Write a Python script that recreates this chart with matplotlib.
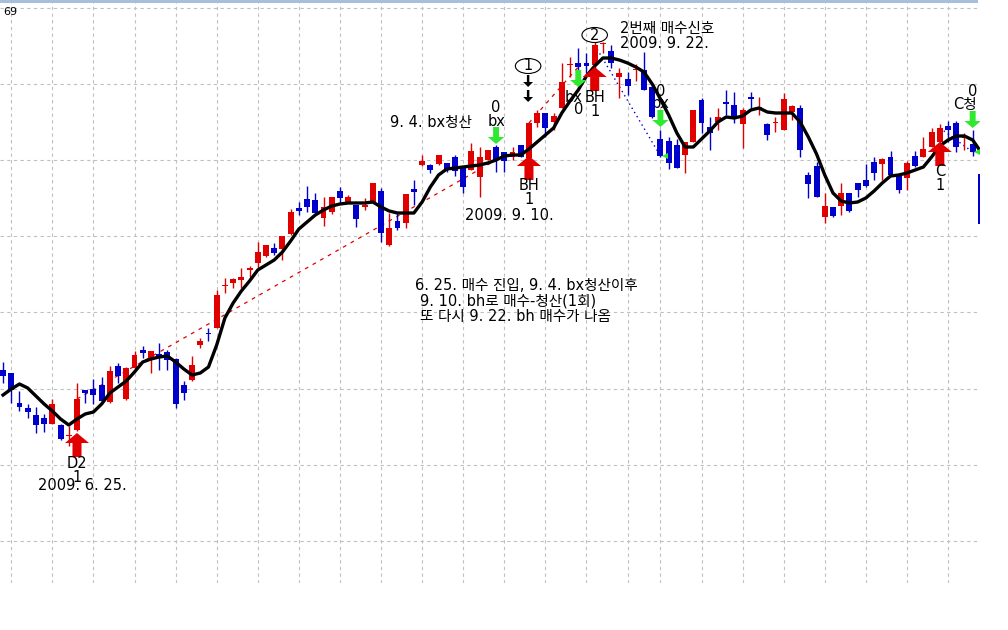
import numpy as np
import pandas as pd
import matplotlib
matplotlib.use('Agg')
import matplotlib.pyplot as plt
from matplotlib.patches import Polygon, Ellipse, Rectangle

plt.rcParams['font.family'] = ['DejaVu Sans', 'Noto Sans CJK KR']

# Trading days (2009-10-02 Chuseok holiday removed)
dates = pd.bdate_range('2009-06-12', '2009-11-27').drop(pd.Timestamp('2009-10-02'))

opens = [1630, 1627, 1597, 1592, 1585, 1582, 1576, 1575, 1564, 1570,
         1610, 1611, 1615, 1598, 1634, 1601, 1632, 1650, 1641, 1646,
         1648, 1641, 1615, 1620, 1655, 1667, 1672, 1714, 1717, 1720,
         1730, 1737, 1744, 1752, 1751, 1766, 1792, 1801, 1800, 1782,
         1788, 1809, 1798, 1795, 1793, 1798, 1809, 1755, 1779, 1777,
         1811, 1835, 1835, 1836, 1837, 1843, 1832, 1830, 1823, 1840,
         1853, 1848, 1843, 1855, 1842, 1877, 1887, 1878, 1892, 1935,
         1937, 1937, 1935, 1956, 1949, 1923, 1921, 1930, 1930, 1913,
         1861, 1859, 1855, 1845, 1858, 1900, 1873, 1878, 1898, 1895,
         1876, 1903, 1891, 1876, 1877, 1870, 1888, 1892, 1825, 1834,
         1783, 1793, 1794, 1807, 1817, 1820, 1838, 1836, 1843, 1824,
         1822, 1844, 1843, 1853, 1858, 1874, 1877, 1862, 1856, 1826]
highs = [1638, 1627, 1609, 1596, 1593, 1586, 1601, 1576, 1574, 1617,
         1610, 1621, 1623, 1634, 1637, 1633, 1649, 1654, 1649, 1657,
         1650, 1642, 1619, 1644, 1662, 1672, 1710, 1722, 1722, 1732,
         1734, 1758, 1755, 1757, 1764, 1791, 1798, 1814, 1807, 1803,
         1803, 1813, 1805, 1795, 1802, 1817, 1812, 1787, 1788, 1806,
         1820, 1845, 1836, 1845, 1837, 1845, 1832, 1857, 1853, 1850,
         1855, 1848, 1853, 1855, 1878, 1890, 1887, 1887, 1937, 1943,
         1952, 1947, 1958, 1958, 1955, 1932, 1928, 1936, 1948, 1914,
         1870, 1863, 1861, 1858, 1890, 1902, 1883, 1892, 1910, 1908,
         1892, 1908, 1903, 1877, 1883, 1907, 1895, 1895, 1828, 1838,
         1807, 1793, 1817, 1807, 1817, 1836, 1843, 1842, 1849, 1824,
         1839, 1849, 1863, 1872, 1876, 1879, 1879, 1867, 1870, 1830]
lows = [1617, 1597, 1589, 1582, 1567, 1568, 1576, 1560, 1554, 1569,
        1597, 1596, 1598, 1597, 1617, 1600, 1631, 1642, 1627, 1630,
        1630, 1592, 1600, 1619, 1652, 1659, 1672, 1707, 1712, 1712,
        1723, 1732, 1743, 1745, 1740, 1765, 1785, 1788, 1787, 1774,
        1786, 1797, 1797, 1773, 1790, 1798, 1758, 1754, 1770, 1772,
        1795, 1834, 1827, 1835, 1828, 1824, 1807, 1830, 1803, 1840,
        1828, 1828, 1840, 1843, 1840, 1873, 1863, 1870, 1892, 1923,
        1915, 1927, 1930, 1947, 1932, 1902, 1905, 1919, 1910, 1882,
        1843, 1831, 1832, 1827, 1858, 1867, 1850, 1870, 1885, 1877,
        1852, 1892, 1885, 1860, 1868, 1870, 1880, 1843, 1802, 1803,
        1777, 1783, 1785, 1788, 1803, 1813, 1820, 1820, 1825, 1807,
        1810, 1833, 1843, 1853, 1857, 1858, 1848, 1850, 1844, 1776]
closes = [1624, 1610, 1593, 1588, 1575, 1576, 1596, 1561, 1565, 1601,
          1607, 1605, 1599, 1629, 1624, 1632, 1645, 1647, 1649, 1642,
          1640, 1596, 1607, 1635, 1659, 1666, 1705, 1715, 1721, 1723,
          1732, 1748, 1755, 1747, 1764, 1788, 1789, 1793, 1787, 1793,
          1803, 1802, 1803, 1781, 1795, 1817, 1767, 1772, 1772, 1806,
          1808, 1839, 1830, 1845, 1830, 1829, 1813, 1849, 1843, 1850,
          1840, 1839, 1848, 1843, 1877, 1887, 1872, 1884, 1918, 1936,
          1933, 1934, 1955, 1957, 1937, 1927, 1914, 1931, 1910, 1883,
          1844, 1837, 1832, 1858, 1890, 1877, 1867, 1883, 1896, 1883,
          1890, 1901, 1893, 1865, 1878, 1901, 1894, 1850, 1816, 1803,
          1794, 1784, 1807, 1789, 1810, 1814, 1827, 1841, 1825, 1810,
          1837, 1834, 1851, 1868, 1872, 1870, 1853, 1863, 1848, 1776]
# smoothed moving average (black line)
ma_line = [1605, 1611, 1616, 1612, 1604, 1596, 1589, 1581, 1575, 1581,
           1586, 1588, 1596, 1607, 1613, 1619, 1628, 1638, 1641, 1643,
           1644, 1638, 1631, 1625, 1627, 1633, 1655, 1682, 1697, 1709,
           1719, 1730, 1735, 1740, 1748, 1759, 1771, 1778, 1785, 1790,
           1794, 1796, 1797, 1797, 1797, 1798, 1793, 1789, 1787, 1787,
           1787, 1798, 1813, 1825, 1831, 1832, 1833, 1834, 1835, 1837,
           1840, 1844, 1845, 1845, 1851, 1858, 1865, 1872, 1887, 1899,
           1910, 1924, 1934, 1942, 1942, 1940, 1937, 1933, 1928, 1916,
           1901, 1885, 1867, 1853, 1853, 1861, 1869, 1878, 1883, 1882,
           1884, 1890, 1892, 1888, 1887, 1887, 1887, 1878, 1863, 1846,
           1825, 1807, 1799, 1797, 1798, 1802, 1809, 1817, 1824, 1825,
           1827, 1830, 1833, 1843, 1854, 1860, 1864, 1864, 1860, 1848]

# buy signals (red up arrows) and exit signals (green down arrows)
buy_dates = ['2009-06-25', '2009-09-10', '2009-09-22', '2009-11-20']
buy_names = ['D2', 'BH', 'BH', 'C']
buy_counts = ['1', '1', '1', '1']
buy_levels = [1567, 1844, 1933, 1858]
sell_dates = ['2009-09-04', '2009-09-18', '2009-10-05', '2009-11-26']
sell_names = ['bx', 'bx', 'bx', 'C청']
sell_counts = ['0', '0', '0', '0']
sell_levels = [1856, 1913, 1873, 1872]

# trades: entry -> exit
trade_entries = ['2009-06-25', '2009-09-10', '2009-09-22', '2009-11-20']
trade_exits = ['2009-09-04', '2009-09-18', '2009-10-05', '2009-11-26']

RED = '#e00000'
BLUE = '#0000cc'
GREEN = '#2fe82f'


def pos(d):
    return dates.get_loc(pd.Timestamp(d))


def up_arrow(ax, k, tip, color, hw=1.46, sw=0.55, hh=10, th=24):
    pts = [(k, tip), (k + hw, tip - hh), (k + sw, tip - hh), (k + sw, tip - th),
           (k - sw, tip - th), (k - sw, tip - hh), (k - hw, tip - hh)]
    ax.add_patch(Polygon(pts, closed=True, color=color, lw=0, zorder=5))


def down_arrow(ax, k, tip, color, hw=1.0, sw=0.36, hh=7, th=17):
    pts = [(k, tip), (k + hw, tip + hh), (k + sw, tip + hh), (k + sw, tip + th),
           (k - sw, tip + th), (k - sw, tip + hh), (k - hw, tip + hh)]
    ax.add_patch(Polygon(pts, closed=True, color=color, lw=0, zorder=5))


fig = plt.figure(figsize=(10.08, 6.30), dpi=100)
ax = fig.add_axes([0, 47 / 630, 979.5 / 1008, 583 / 630])
ax.set_xlim(-0.37, 118.83)
ax.set_ylim(1417, 2000)

# weekly grid (first trading day of each week)
week_starts = [i for i in range(1, len(dates)) if dates[i].weekday() < dates[i - 1].weekday()]
ax.set_xticks(week_starts)
ax.set_yticks(np.arange(1459, 2000, 76.2))
ax.grid(True, color='#c0c0c0', linestyle=(0, (3, 3)), linewidth=0.8, zorder=0)
ax.tick_params(length=0, labelbottom=False, labelleft=False)
for s in ax.spines.values():
    s.set_visible(False)

# candles
o = np.array(opens)
c = np.array(closes)
x = np.arange(len(dates))
colors = np.where(c >= o, RED, BLUE)
ax.vlines(x, lows, highs, colors=colors, linewidth=1, zorder=3)
ax.bar(x, np.maximum(np.abs(c - o), 1), bottom=np.minimum(o, c), width=0.72,
       color=colors, linewidth=0, zorder=3)

# moving average
ax.plot(x, ma_line, color='black', lw=2.4, zorder=4, solid_joinstyle='round')

# trade lines: red when profitable, blue dotted when losing
for e, q in zip(trade_entries, trade_exits):
    i, j = pos(e), pos(q)
    if c[j] > c[i]:
        ax.plot([i, j], [c[i], c[j]], color=RED, lw=0.9, ls=(0, (3, 4)), zorder=2)
    else:
        ax.plot([i, j], [c[i], c[j]], color=BLUE, lw=1, ls=(0, (1, 2.5)), zorder=2)
        ax.plot(j + 0.55, c[j], marker='<', ms=4, color=GREEN, mew=0, zorder=5)

# buy signals
for d, name, cnt, lv in zip(buy_dates, buy_names, buy_counts, buy_levels):
    k = pos(d)
    up_arrow(ax, k, lv, RED)
    ax.text(k, lv - 30, name, ha='center', va='center', fontsize=10.5, zorder=6)
    ax.text(k, lv - 44, cnt, ha='center', va='center', fontsize=10.5, zorder=6)

# exit signals
for d, name, cnt, lv in zip(sell_dates, sell_names, sell_counts, sell_levels):
    k = pos(d)
    down_arrow(ax, k, lv, GREEN)
    if d == '2009-09-18':
        # labels pushed under the arrow next to the 9.22 signal
        ax.text(k - 0.55, lv - 10, name, ha='center', va='center', fontsize=10.5, zorder=6)
        ax.text(k, lv - 23, cnt, ha='center', va='center', fontsize=10.5, zorder=6)
    elif k > len(dates) - 4:
        ax.text(k + 0.45, lv + 23, name, ha='right', va='center', fontsize=10.5, zorder=6)
        ax.text(k, lv + 37, cnt, ha='center', va='center', fontsize=10.5, zorder=6)
    else:
        ax.text(k, lv + 23, name, ha='center', va='center', fontsize=10.5, zorder=2)
        ax.text(k, lv + 36, cnt, ha='center', va='center', fontsize=10.5, zorder=2)

# circled numbers
k1, k2 = pos('2009-09-10'), pos('2009-09-22')
for k, lv, t in [(k1 - 0.1, 1934, '1'), (k2, 1965, '2')]:
    ax.add_patch(Ellipse((k, lv), 3.1, 15, fill=False, ec='black', lw=0.8, zorder=6))
    ax.text(k, lv, t, ha='center', va='center', fontsize=10.5, zorder=7)
for top in [1925, 1910]:
    down_arrow(ax, k1 - 0.1, top - 12, 'black', hw=0.6, sw=0.15, hh=5, th=12)

# annotations
ax.text(pos('2009-06-25') - 4.75, 1515, '2009. 6. 25.', ha='left', va='center', fontsize=10.5, zorder=6)
ax.text(47.1, 1878, '9. 4. bx청산', ha='left', va='center', fontsize=10.5, zorder=6)
ax.text(56.2, 1785, '2009. 9. 10.', ha='left', va='center', fontsize=10.5, zorder=6)
ax.text(75.1, 1972, '2번째 매수신호', ha='left', va='center', fontsize=10.5, zorder=6)
ax.text(75.1, 1957, '2009. 9. 22.', ha='left', va='center', fontsize=10.5, zorder=6)
ax.text(50.1, 1715, '6. 25. 매수 진입, 9. 4. bx청산이후', ha='left', va='center', fontsize=10.5)
ax.text(50.7, 1699, '9. 10. bh로 매수-청산(1회)', ha='left', va='center', fontsize=10.5)
ax.text(50.7, 1684, '또 다시 9. 22. bh 매수가 나옴', ha='left', va='center', fontsize=10.5)

# window strip and corner value
fig.add_artist(Rectangle((0, 1 - 3 / 630), 978 / 1008, 3 / 630, transform=fig.transFigure,
                         color='#a8bfdb', lw=0))
fig.text(3 / 1008, 1 - 12 / 630, '69', ha='left', va='center', fontsize=8)

fig.savefig('out.png', dpi=100)
